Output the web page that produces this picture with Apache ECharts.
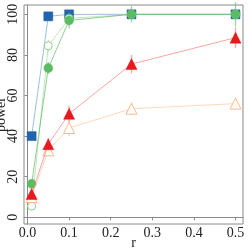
<!DOCTYPE html>
<html><head><meta charset="utf-8">
<script src="https://cdn.jsdelivr.net/npm/echarts@6/dist/echarts.min.js"></script>
<style>html,body{margin:0;padding:0;background:#fff}#c{width:249px;height:249px}</style>
</head><body><div id="c"></div>
<script>
const rValues = [0.01, 0.05, 0.1, 0.25, 0.5];
const xTicks = [0, 0.1, 0.2, 0.3, 0.4, 0.5];
const yTicks = [0, 20, 40, 60, 80, 100];
const blueSq = [40, 99, 100, 100, 100];
const blueErr = [2, 1, 0, 0, 0];
const greenOpen = [5.5, 84.5, 98, 100, 100];
const greenOpenErr = [1.5, 3, 2, 0, 0];
const greenFill = [16.5, 73.5, 97, 100, 100];
const greenFillErr = [2, 3, 4, 4, 6];
const redTri = [11.5, 36, 51, 75.5, 88.5];
const redTriErr = [2, 3, 4, 4.5, 5];
const orangeTri = [10, 33, 44, 53.5, 56];
const orangeTriErr = [2, 3, 4, 3, 3];

const FONT = 'Liberation Serif';
function pairs(vals){ return rValues.map((r,i)=>[r, vals[i]]); }
function errSeries(vals, errs, color, z){
  return {
    type:'custom', z:z, silent:true,
    data: rValues.map((r,i)=>[r, vals[i], errs[i]]),
    renderItem:function(params, api){
      const x=api.value(0), y=api.value(1), e=api.value(2);
      const p1=api.coord([x,y-e]), p2=api.coord([x,y+e]);
      return {type:'line', shape:{x1:p1[0],y1:p1[1],x2:p2[0],y2:p2[1]}, style:{stroke:color, lineWidth:1.3, opacity:0.6}};
    }
  };
}
function lineSeries(vals, symbol, size, color, lineColor, filled, z){
  return {
    type:'line', z:z, data:pairs(vals), symbol:symbol, symbolSize:size,
    lineStyle:{color:lineColor, width:0.9, opacity:0.75},
    itemStyle: filled ? {color:color, borderColor:color, borderWidth:0.5} : {color:'#fff', borderColor:color, borderWidth:1, opacity:1},
    showAllSymbol:true, animation:false
  };
}
const chart = echarts.init(document.getElementById('c'), null, {renderer:'canvas'});
chart.setOption({
  animation:false,
  grid:{left:24, top:5, right:6, bottom:25, containLabel:false, outerBoundsMode:'none', show:true, borderColor:'#8a8a8a', borderWidth:1},
  xAxis:{type:'value', min:-0.0084, max:0.518,
    name:'r', nameLocation:'middle', nameGap:12, nameMoveOverlap:false, nameTextStyle:{fontFamily:FONT, fontSize:14, color:'#222'},
    axisLine:{show:true, lineStyle:{color:'#8a8a8a'}},
    axisTick:{show:true, length:3, lineStyle:{color:'#8a8a8a'}, customValues:xTicks},
    axisLabel:{customValues:xTicks, fontFamily:FONT, fontSize:14, color:'#222', margin:2,
      formatter:v=>v.toFixed(1)},
    splitLine:{show:false}},
  yAxis:{type:'value', min:-3.3, max:104.6,
    name:'power', nameLocation:'middle', nameGap:16, nameMoveOverlap:false, nameTextStyle:{fontFamily:FONT, fontSize:14, color:'#222'},
    axisLine:{show:true, lineStyle:{color:'#8a8a8a'}},
    axisTick:{show:true, length:3, lineStyle:{color:'#8a8a8a'}, customValues:yTicks},
    axisLabel:{customValues:yTicks, fontFamily:FONT, fontSize:14, color:'#222', rotate:90, margin:11,
      verticalAlign:'middle', align:'center'},
    splitLine:{show:false}},
  series:[
    errSeries(blueSq, blueErr, '#6b9fd1', 1),
    lineSeries(blueSq, 'rect', 9, '#2163ad', '#6b9fd1', true, 2),
    errSeries(greenOpen, greenOpenErr, '#9ed89a', 3),
    lineSeries(greenOpen, 'circle', 8, '#8fd38a', '#9ed89a', false, 4),
    errSeries(greenFill, greenFillErr, '#5bb85c', 5),
    lineSeries(greenFill, 'circle', 9, '#5cbc62', '#5bb85c', true, 6),
    errSeries(orangeTri, orangeTriErr, '#fdb98a', 7),
    lineSeries(orangeTri, 'triangle', 11, '#fdb98a', '#fdc69d', false, 8),
    errSeries(redTri, redTriErr, '#f06a6a', 9),
    lineSeries(redTri, 'triangle', 11, '#e41a1c', '#f37b7b', true, 10)
  ]
});
</script></body></html>
